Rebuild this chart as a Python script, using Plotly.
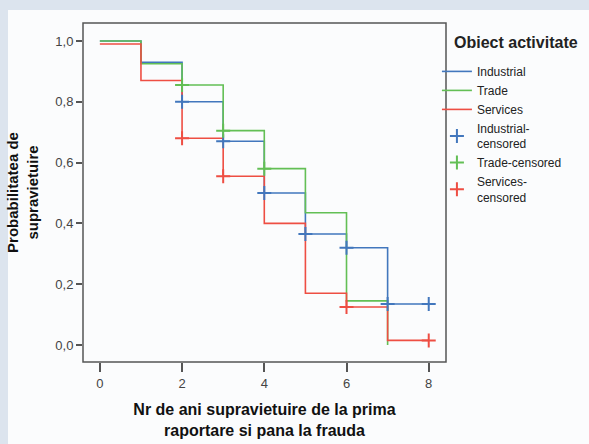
import plotly.graph_objects as go

# Data
years = [0, 1, 2, 3, 4, 5, 6, 7, 8]
industrial = [1.0, 0.93, 0.80, 0.67, 0.50, 0.365, 0.32, 0.135, 0.135]
trade_x = [0, 1, 2, 3, 4, 5, 6, 7]
trade = [1.0, 0.925, 0.855, 0.705, 0.58, 0.435, 0.145, 0.0]
services = [0.99, 0.87, 0.68, 0.555, 0.40, 0.17, 0.125, 0.015, 0.015]

ind_cens_x = [2, 3, 4, 5, 6, 7, 8]
ind_cens_y = [0.80, 0.67, 0.50, 0.365, 0.32, 0.135, 0.135]
trade_cens_x = [2, 3, 4]
trade_cens_y = [0.855, 0.705, 0.58]
serv_cens_x = [2, 3, 6, 8]
serv_cens_y = [0.68, 0.555, 0.125, 0.015]

x_ticks = [0, 2, 4, 6, 8]
y_ticks = [0.0, 0.2, 0.4, 0.6, 0.8, 1.0]
y_ticktext = ["0,0", "0,2", "0,4", "0,6", "0,8", "1,0"]

BLUE = "#4277bd"
GREEN = "#63bf55"
RED = "#ee4e43"

fig = go.Figure()
fig.add_trace(go.Scatter(x=years, y=industrial, mode="lines", line=dict(color=BLUE, width=1.6, shape="hv"), name="Industrial"))
fig.add_trace(go.Scatter(x=trade_x, y=trade, mode="lines", line=dict(color=GREEN, width=1.6, shape="hv"), name="Trade"))
fig.add_trace(go.Scatter(x=years, y=services, mode="lines", line=dict(color=RED, width=1.6, shape="hv"), name="Services"))

mk = dict(symbol="cross-thin-open", size=10)
fig.add_trace(go.Scatter(x=ind_cens_x, y=ind_cens_y, mode="markers",
                         marker=dict(**mk, color=BLUE, line=dict(color=BLUE, width=2)),
                         name="Industrial-<br>censored"))
fig.add_trace(go.Scatter(x=trade_cens_x, y=trade_cens_y, mode="markers",
                         marker=dict(**mk, color=GREEN, line=dict(color=GREEN, width=2)),
                         name="Trade-censored"))
fig.add_trace(go.Scatter(x=serv_cens_x, y=serv_cens_y, mode="markers",
                         marker=dict(**mk, color=RED, line=dict(color=RED, width=2)),
                         name="Services-<br>censored"))

fig.update_layout(
    width=589, height=444,
    margin=dict(l=83, r=143, t=23, b=82, autoexpand=False),
    paper_bgcolor="#dce4ee",
    plot_bgcolor="#f3f3f3",
    font=dict(family="Liberation Sans, Arial, sans-serif", size=13, color="#333"),
    showlegend=True,
    legend=dict(
        x=0.975, y=0.90, xanchor="left", yanchor="top",
        bgcolor="rgba(0,0,0,0)",
        font=dict(size=12, color="#222"),
        itemwidth=30, tracegroupgap=0,
    ),
    annotations=[
        dict(text="<b>Obiect activitate</b>", xref="paper", yref="paper",
             x=(452 - 83) / 363, y=(362 - 42) / 339, xanchor="left", yanchor="middle",
             showarrow=False, font=dict(size=16, color="#222")),
    ],
    shapes=[
        dict(type="rect", xref="paper", yref="paper", x0=-0.2066, x1=1.5, y0=-0.3, y1=1.0383,
             fillcolor="#fbfcfd", line=dict(width=0), layer="below"),
        dict(type="rect", xref="paper", yref="paper", x0=0, x1=1, y0=0, y1=1,
             line=dict(color="#555", width=1.5), fillcolor="rgba(0,0,0,0)", layer="above"),
    ],
)

fig.update_xaxes(
    range=[-0.41, 8.42], tickvals=x_ticks, showgrid=False, zeroline=False, automargin=False,
    ticks="outside", ticklen=9, tickwidth=1.5, tickcolor="#555",
    tickfont=dict(size=13, color="#444"),
    title=dict(text="<b>Nr de ani supravietuire de la prima<br>raportare si pana la frauda</b>",
               font=dict(size=16, color="#111"), standoff=14),
)
fig.update_yaxes(
    range=[-0.056, 1.059], tickvals=y_ticks, ticktext=y_ticktext, showgrid=False, zeroline=False,
    automargin=False,
    ticks="outside", ticklen=6, tickwidth=1.5, tickcolor="#555",
    tickfont=dict(size=13, color="#444"),
    title=dict(text="<b>Probabilitatea de<br>supravietuire</b>", font=dict(size=15, color="#111"), standoff=13),
)

fig.write_html(
    "out.html",
    config={"displayModeBar": False},
    post_script="document.body.style.margin='0';document.body.style.overflow='hidden';"
                "document.body.style.background='#dce4ee';",
)
